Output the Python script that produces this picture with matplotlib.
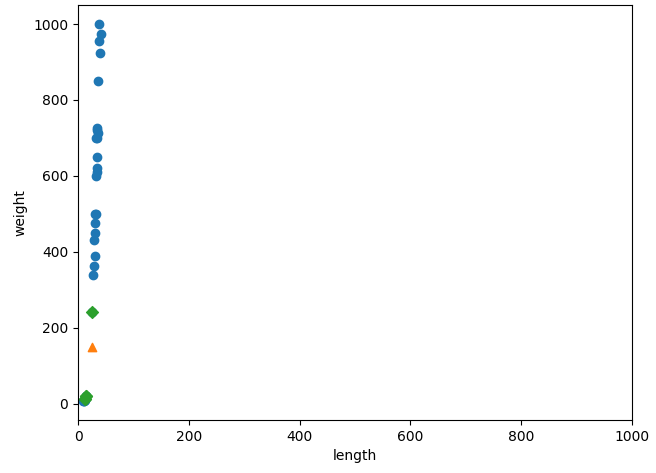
import matplotlib
matplotlib.use('Agg')
import numpy as np
import matplotlib.pyplot as plt

# training fish (length, weight)
train_length = [25.4, 26.5, 29.0, 29.0, 29.7, 29.7, 30.0, 31.0, 31.5, 32.0,
                33.5, 33.5, 34.5, 33.0, 35.0, 36.0, 35.0, 35.0, 37.0, 38.5,
                39.5, 41.0, 36.0,
                9.8, 10.5, 10.6, 11.0, 11.2, 11.8, 12.0, 12.2, 12.4, 13.0,
                14.3, 15.0]
train_weight = [242, 340, 363, 430, 450, 500, 390, 475, 500, 600,
                610, 650, 620, 700, 700, 714, 725, 720, 1000, 955,
                925, 975, 850,
                6.7, 7.5, 7.0, 9.7, 9.8, 10.0, 9.8, 12.2, 13.4, 12.2,
                19.7, 19.9]

new_fish = (25, 150)

# nearest neighbours of the new fish
nb_length = [25.4, 15.0, 14.3, 12.4, 13.0]
nb_weight = [242, 19.9, 19.7, 13.4, 12.2]

fig = plt.figure(figsize=(6.56, 4.73), dpi=100)
fig.subplots_adjust(left=0.119, right=0.963, top=0.989, bottom=0.112)
plt.scatter(train_length, train_weight)
plt.scatter(new_fish[0], new_fish[1], marker='^')
plt.scatter(nb_length, nb_weight, marker='D')
plt.xlim((0, 1000))
plt.xlabel('length')
plt.ylabel('weight')
plt.savefig('out.png')
